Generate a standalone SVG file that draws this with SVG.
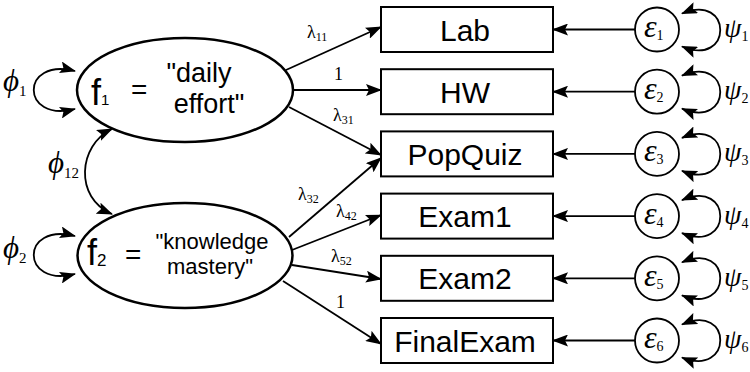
<svg xmlns="http://www.w3.org/2000/svg" width="750" height="372" viewBox="0 0 750 372">
<style>
.box{fill:#fff;stroke:#000;stroke-width:2}
.ell{fill:#fff;stroke:#000;stroke-width:2.5}
.cir{fill:#fff;stroke:#000;stroke-width:1.8}
.ln{fill:none;stroke:#000;stroke-width:1.8;marker-end:url(#ah)}
.lp{fill:none;stroke:#000;stroke-width:1.8;marker-start:url(#ahs);marker-end:url(#ah)}
.bt{font-family:'Liberation Sans',Arial,sans-serif;font-size:30px;text-anchor:middle;fill:#000}
.ft{font-family:'Liberation Sans',Arial,sans-serif;fill:#000}
</style>
<defs>
<marker id="ah" markerUnits="userSpaceOnUse" markerWidth="16" markerHeight="12" viewBox="0 0 16 12" refX="15" refY="6" orient="auto"><path d="M0,0 L16,6 L0,12 L3,6 z" fill="#000"/></marker>
<marker id="ahs" markerUnits="userSpaceOnUse" markerWidth="16" markerHeight="12" viewBox="0 0 16 12" refX="15" refY="6" orient="auto-start-reverse"><path d="M0,0 L16,6 L0,12 L3,6 z" fill="#000"/></marker>
</defs>

<g id="connectors">
<path class="ln" d="M286,70 L381,27"/>
<path class="ln" d="M293,90 L381,90"/>
<path class="ln" d="M289,107 L381,155"/>
<path class="ln" d="M289,237 L381,158"/>
<path class="ln" d="M292,250 L381,215"/>
<path class="ln" d="M292,265 L381,279"/>
<path class="ln" d="M283,281 L381,344"/>
<path class="lp" d="M112,214 C74,198 78,145 112,129"/>
<path class="lp" d="M75,71 C20,57 20,123 75,109"/>
<path class="lp" d="M75,236 C20,222 20,288 75,274"/>
<path class="ln" d="M635,29.5 L553,29.5"/>
<path class="ln" d="M635,91.7 L553,91.7"/>
<path class="ln" d="M635,153.9 L553,153.9"/>
<path class="ln" d="M635,216.1 L553,216.1"/>
<path class="ln" d="M635,278.3 L553,278.3"/>
<path class="ln" d="M635,340.5 L553,340.5"/>
<path class="lp" d="M682,13.5 C733,-8 733,68 682,46.5"/>
<path class="lp" d="M682,75.7 C733,54 733,130 682,108.7"/>
<path class="lp" d="M682,137.9 C733,116 733,192 682,170.9"/>
<path class="lp" d="M682,200.1 C733,178 733,254 682,233.1"/>
<path class="lp" d="M682,262.3 C733,240 733,316 682,295.3"/>
<path class="lp" d="M682,324.5 C733,302 733,378 682,357.5"/>
<g font-family="'Liberation Serif', 'Times New Roman', serif" font-size="18" fill="#000">
<text x="307" y="38">λ<tspan font-size="12" dy="3">11</tspan></text>
<text x="334" y="80">1</text>
<text x="333" y="121">λ<tspan font-size="12" dy="3">31</tspan></text>
<text x="298" y="200">λ<tspan font-size="12" dy="3">32</tspan></text>
<text x="336" y="217">λ<tspan font-size="12" dy="3">42</tspan></text>
<text x="331" y="262">λ<tspan font-size="12" dy="3">52</tspan></text>
<text x="336" y="308">1</text>
<text x="3" y="91" font-size="31"><tspan font-style="italic">ϕ</tspan><tspan font-size="15" dy="5">1</tspan></text>
<text x="3" y="258" font-size="31"><tspan font-style="italic">ϕ</tspan><tspan font-size="15" dy="5">2</tspan></text>
<text x="48" y="173" font-size="31"><tspan font-style="italic">ϕ</tspan><tspan font-size="15" dy="5">12</tspan></text>
</g>
</g>

<g id="f1">
<ellipse class="ell" cx="185" cy="90" rx="108" ry="52"/>
<text class="ft" x="91" y="105" font-size="36">f<tspan font-size="15">1</tspan></text>
<text class="ft" x="131" y="99" font-size="28">=</text>
<text class="ft" x="199" y="82" font-size="27" text-anchor="middle">"daily</text>
<text class="ft" x="209" y="113" font-size="27" text-anchor="middle">effort"</text>
</g>
<g id="f2">
<ellipse class="ell" cx="185" cy="255.5" rx="107.5" ry="52.5"/>
<text class="ft" x="87" y="265" font-size="36">f<tspan font-size="17" dy="1">2</tspan></text>
<text class="ft" x="125" y="264" font-size="28">=</text>
<text class="ft" x="212" y="249" font-size="22" text-anchor="middle">"knowledge</text>
<text class="ft" x="210" y="274" font-size="22" text-anchor="middle">mastery"</text>
</g>

<g id="lab"><rect class="box" x="381" y="7" width="172" height="45"/><text class="bt" x="465" y="40.5">Lab</text></g>
<g id="hw"><rect class="box" x="381" y="69.2" width="172" height="45"/><text class="bt" x="465" y="102.7">HW</text></g>
<g id="popquiz"><rect class="box" x="381" y="131.4" width="172" height="45"/><text class="bt" x="465" y="164.9">PopQuiz</text></g>
<g id="exam1"><rect class="box" x="381" y="193.6" width="172" height="45"/><text class="bt" x="465" y="227.1">Exam1</text></g>
<g id="exam2"><rect class="box" x="381" y="255.8" width="172" height="45"/><text class="bt" x="465" y="289.3">Exam2</text></g>
<g id="finalexam"><rect class="box" x="381" y="318" width="172" height="45"/><text class="bt" x="465" y="351.5">FinalExam</text></g>

<g font-family="'Liberation Serif', 'Times New Roman', serif" fill="#000">
<g id="e1"><circle class="cir" cx="657" cy="29.5" r="22"/><text x="644" y="37" font-size="32"><tspan font-style="italic">ε</tspan><tspan font-size="14" dy="3">1</tspan></text></g>
<g id="e2"><circle class="cir" cx="657" cy="91.7" r="22"/><text x="644" y="99.2" font-size="32"><tspan font-style="italic">ε</tspan><tspan font-size="14" dy="3">2</tspan></text></g>
<g id="e3"><circle class="cir" cx="657" cy="153.9" r="22"/><text x="644" y="161.4" font-size="32"><tspan font-style="italic">ε</tspan><tspan font-size="14" dy="3">3</tspan></text></g>
<g id="e4"><circle class="cir" cx="657" cy="216.1" r="22"/><text x="644" y="223.6" font-size="32"><tspan font-style="italic">ε</tspan><tspan font-size="14" dy="3">4</tspan></text></g>
<g id="e5"><circle class="cir" cx="657" cy="278.3" r="22"/><text x="644" y="285.8" font-size="32"><tspan font-style="italic">ε</tspan><tspan font-size="14" dy="3">5</tspan></text></g>
<g id="e6"><circle class="cir" cx="657" cy="340.5" r="22"/><text x="644" y="348" font-size="32"><tspan font-style="italic">ε</tspan><tspan font-size="14" dy="3">6</tspan></text></g>
<g font-size="28">
<text x="724" y="37"><tspan font-style="italic">ψ</tspan><tspan font-size="14" dy="4">1</tspan></text>
<text x="724" y="99.2"><tspan font-style="italic">ψ</tspan><tspan font-size="14" dy="4">2</tspan></text>
<text x="724" y="161.4"><tspan font-style="italic">ψ</tspan><tspan font-size="14" dy="4">3</tspan></text>
<text x="724" y="223.6"><tspan font-style="italic">ψ</tspan><tspan font-size="14" dy="4">4</tspan></text>
<text x="724" y="285.8"><tspan font-style="italic">ψ</tspan><tspan font-size="14" dy="4">5</tspan></text>
<text x="724" y="348"><tspan font-style="italic">ψ</tspan><tspan font-size="14" dy="4">6</tspan></text>
</g>
</g>
</svg>
